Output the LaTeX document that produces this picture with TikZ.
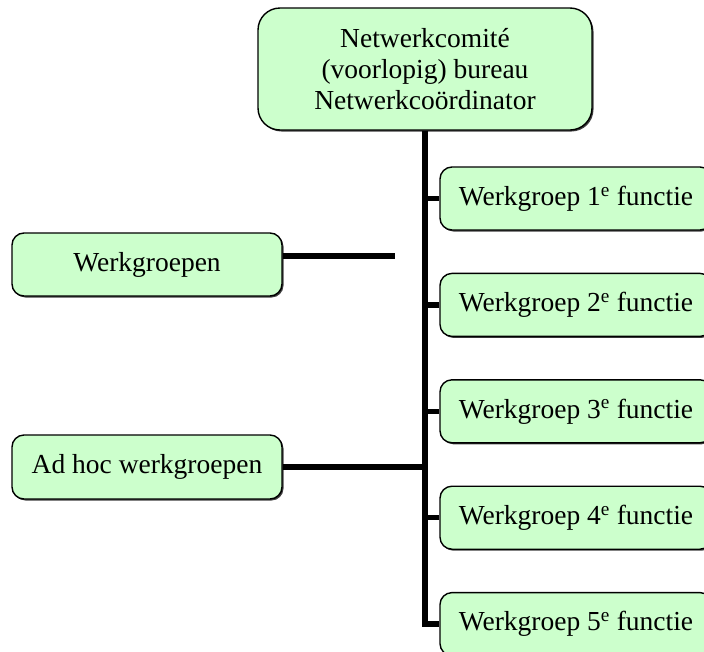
\documentclass[tikz,border=0pt]{standalone}
\usepackage{fontspec}
\setmainfont{Liberation Serif}
\usepackage{xcolor}
\usetikzlibrary{positioning, shadows}
\definecolor{boxfill}{HTML}{CCFFCC}
\newcommand{\wgname}[1]{Werkgroep #1\textsuperscript{e} functie}

\begin{document}
\begin{tikzpicture}[
    x=1pt, y=-1pt,
    node distance=42pt,
    every node/.style={font=\fontsize{27.5}{31}\selectfont},
    orgbox/.style={rectangle, draw=black, line width=1.4pt,
                   fill=boxfill, rounded corners=12pt, align=center,
                   inner sep=0pt,
                   drop shadow={shadow xshift=1.5pt, shadow yshift=-1.5pt,
                                fill=black!75, opacity=1}},
    wgbox/.style={orgbox, minimum width=272pt, minimum height=63pt},
    sidebox/.style={orgbox, minimum width=270pt, minimum height=63pt},
    link/.style={line width=5.5pt, color=black}
]
\useasboundingbox (0,0) rectangle (704,651);

% top of the tree
\node[orgbox, rounded corners=22pt, minimum width=334pt, minimum height=122pt]
     (top) at (425,69)
     {Netwerkcomit\'e\\(voorlopig) bureau\\Netwerkco\"ordinator};

% working groups on the right
\node[wgbox] (wg1) at (576,198.5) {\wgname{1}};
\node[wgbox, below=of wg1] (wg2) {\wgname{2}};
\node[wgbox, below=of wg2] (wg3) {\wgname{3}};
\node[wgbox, below=of wg3] (wg4) {\wgname{4}};
\node[wgbox, below=of wg4] (wg5) {\wgname{5}};

% labels on the left
\node[sidebox] (wg) at (147,264.5) {Werkgroepen};
\node[sidebox, minimum height=64pt] (adhoc) at (147,467) {Ad hoc werkgroepen};
\coordinate (stub) at (395,256);

\draw[link] (top.south) |- (wg5.west);
\foreach \i in {1,...,4}
  \draw[link] (wg\i.west) -- (wg\i.west -| top.south);
\draw[link] (wg.east |- stub) -- (stub);
\draw[link] (adhoc.east) -- (adhoc.east -| top.south);

\end{tikzpicture}
\end{document}
